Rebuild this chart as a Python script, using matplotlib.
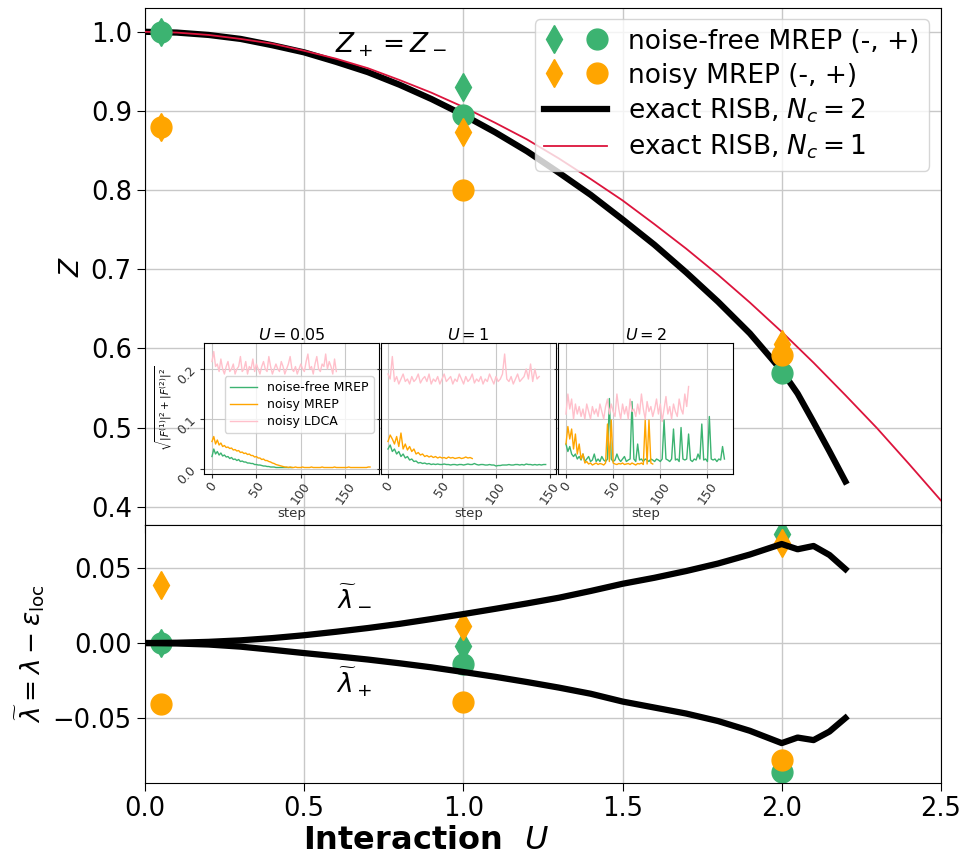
import numpy as np
import matplotlib
matplotlib.use("Agg")
import matplotlib.pyplot as plt
from matplotlib.legend_handler import HandlerTuple

# ---------------- data ----------------
U_points = [0.05, 1.0, 2.0]
# Z (quasiparticle weight) from MREP; (-) diamonds, (+) circles
Z_free_minus = [1.0, 0.93, 0.59]
Z_free_plus = [1.0, 0.895, 0.569]
Z_noisy_minus = [0.88, 0.873, 0.605]
Z_noisy_plus = [0.88, 0.80, 0.592]
# lambda tilde
lam_free_minus = [0.0, -0.002, 0.073]
lam_free_plus = [0.0, -0.014, -0.086]
lam_noisy_minus = [0.039, 0.0113, 0.0667]
lam_noisy_plus = [-0.0407, -0.039, -0.078]

# exact RISB curves
U_nc2 = [0.0, 0.1, 0.2, 0.3, 0.4, 0.5, 0.6, 0.7, 0.8, 0.9, 1.0, 1.1, 1.2, 1.3, 1.4, 1.5, 1.6, 1.7,
         1.8, 1.9, 2.0, 2.05, 2.1, 2.15, 2.2]
Z_nc2 = [1.0, 0.999, 0.996, 0.991, 0.983, 0.974, 0.962, 0.949, 0.933, 0.915, 0.895, 0.873, 0.849,
         0.822, 0.794, 0.763, 0.731, 0.696, 0.659, 0.619, 0.572, 0.543, 0.507, 0.47, 0.432]
U_nc1 = [0.0, 0.1, 0.2, 0.3, 0.4, 0.5, 0.6, 0.7, 0.8, 0.9, 1.0, 1.1, 1.2, 1.3, 1.4, 1.5, 1.6, 1.7,
         1.8, 1.9, 2.0, 2.1, 2.2, 2.3, 2.4, 2.5]
Z_nc1 = [1.0, 0.999, 0.996, 0.991, 0.985, 0.976, 0.966, 0.954, 0.939, 0.923, 0.905, 0.885, 0.864,
         0.840, 0.814, 0.787, 0.757, 0.726, 0.693, 0.658, 0.621, 0.582, 0.541, 0.499, 0.454, 0.408]
U_lam = [0.0, 0.1, 0.2, 0.3, 0.4, 0.5, 0.6, 0.7, 0.8, 0.9, 1.0, 1.1, 1.2, 1.3, 1.4, 1.5, 1.6, 1.7,
         1.8, 1.9, 2.0, 2.05, 2.1, 2.15, 2.2]
lam_minus = [0.0, 0.0002, 0.0008, 0.0018, 0.0033, 0.0052, 0.0075, 0.0100, 0.0128, 0.016, 0.0193,
             0.0228, 0.0264, 0.0302, 0.0347, 0.0395, 0.0435, 0.048, 0.053, 0.059, 0.066, 0.0625,
             0.0647, 0.0587, 0.0493]
lam_plus = [0.0, -0.0003, -0.001, -0.0024, -0.0045, -0.0067, -0.0088, -0.011, -0.0135, -0.0162,
            -0.0193, -0.0225, -0.026, -0.0297, -0.0338, -0.039, -0.043, -0.047, -0.052, -0.0585,
            -0.0667, -0.063, -0.0647, -0.059, -0.050]

# inset convergence traces (value every `step_spacing` steps)
step_spacing = 2
inset_titles = ["$U = 0.05$", "$U = 1$", "$U = 2$"]
pink1 = [0.215, 0.235, 0.205, 0.21, 0.195, 0.22, 0.2, 0.19, 0.205, 0.215, 0.195, 0.2, 0.21, 0.19, 0.2, 0.205,
         0.225, 0.195, 0.2, 0.215, 0.19, 0.205, 0.2, 0.22, 0.195, 0.21, 0.2, 0.19, 0.205, 0.215, 0.2, 0.195,
         0.225, 0.205, 0.19, 0.2, 0.21, 0.2, 0.195, 0.215, 0.205, 0.19, 0.2, 0.21, 0.225, 0.2, 0.195, 0.205,
         0.19, 0.2, 0.21, 0.2, 0.195, 0.215, 0.23, 0.2, 0.205, 0.19, 0.21, 0.225, 0.2, 0.195, 0.21, 0.205,
         0.23, 0.2, 0.215, 0.205, 0.19, 0.22, 0.195]
orange1 = [0.055, 0.065, 0.05, 0.058, 0.048, 0.052, 0.045, 0.047, 0.043, 0.044, 0.041, 0.042, 0.038, 0.039,
           0.036, 0.037, 0.033, 0.034, 0.031, 0.032, 0.029, 0.03, 0.027, 0.027, 0.024, 0.025, 0.022, 0.022,
           0.019, 0.02, 0.017, 0.017, 0.015, 0.014, 0.012, 0.011, 0.009, 0.008, 0.007, 0.006, 0.005, 0.004,
           0.004, 0.003, 0.004, 0.003, 0.003, 0.004, 0.003, 0.003, 0.003, 0.004, 0.003, 0.003, 0.003, 0.003,
           0.004, 0.003, 0.003, 0.003, 0.003, 0.003, 0.004, 0.003, 0.003, 0.003, 0.003, 0.003, 0.003, 0.004,
           0.003, 0.003, 0.003, 0.003, 0.003, 0.003, 0.003, 0.004, 0.003, 0.003, 0.003, 0.003, 0.003, 0.003,
           0.003, 0.003, 0.003, 0.003, 0.004, 0.004]
green1 = [0.025, 0.04, 0.03, 0.035, 0.028, 0.032, 0.026, 0.028, 0.024, 0.025, 0.021, 0.023, 0.019, 0.02,
          0.017, 0.019, 0.015, 0.016, 0.014, 0.014, 0.012, 0.012, 0.011, 0.011, 0.009, 0.009, 0.008, 0.008,
          0.007, 0.006, 0.006, 0.005, 0.005, 0.004, 0.004, 0.004, 0.003, 0.003, 0.003, 0.003, 0.003, 0.003,
          0.003, 0.003, 0.003, 0.003]
pink2 = [0.19, 0.18, 0.225, 0.175, 0.185, 0.17, 0.18, 0.19, 0.175, 0.18, 0.17, 0.185, 0.175, 0.18, 0.19,
         0.172, 0.18, 0.185, 0.175, 0.19, 0.17, 0.18, 0.175, 0.185, 0.17, 0.18, 0.19, 0.175, 0.18, 0.185,
         0.17, 0.18, 0.175, 0.19, 0.18, 0.17, 0.185, 0.175, 0.18, 0.19, 0.172, 0.18, 0.175, 0.185, 0.17,
         0.18, 0.175, 0.19, 0.18, 0.17, 0.185, 0.175, 0.18, 0.19, 0.23, 0.18, 0.175, 0.185, 0.17, 0.18,
         0.19, 0.175, 0.18, 0.185, 0.2, 0.18, 0.21, 0.175, 0.2, 0.18, 0.185]
orange2 = [0.055, 0.068, 0.06, 0.05, 0.065, 0.045, 0.072, 0.04, 0.05, 0.038, 0.045, 0.035, 0.04, 0.03, 0.033,
           0.028, 0.03, 0.025, 0.027, 0.024, 0.026, 0.023, 0.025, 0.022, 0.024, 0.022, 0.023, 0.021, 0.024,
           0.022, 0.023, 0.021, 0.022, 0.023, 0.021, 0.022, 0.024, 0.022, 0.023, 0.021]
green2 = [0.04, 0.048, 0.035, 0.04, 0.03, 0.035, 0.025, 0.03, 0.022, 0.025, 0.018, 0.02, 0.015, 0.016, 0.012,
          0.013, 0.011, 0.012, 0.01, 0.011, 0.009, 0.01, 0.009, 0.01, 0.009, 0.009, 0.01, 0.009, 0.009, 0.008,
          0.009, 0.009, 0.008, 0.009, 0.009, 0.008, 0.009, 0.01, 0.009, 0.009, 0.011, 0.009, 0.008, 0.009,
          0.009, 0.008, 0.008, 0.009, 0.008, 0.008, 0.006, 0.007, 0.007, 0.008, 0.008, 0.008, 0.009, 0.008,
          0.008, 0.009, 0.009, 0.008, 0.009, 0.008, 0.01, 0.009, 0.009, 0.008, 0.009, 0.008, 0.009, 0.008,
          0.009, 0.009]
pink3 = [0.11, 0.15, 0.12, 0.14, 0.1, 0.13, 0.11, 0.125, 0.105, 0.12, 0.1, 0.13, 0.115, 0.1, 0.125, 0.11,
         0.12, 0.105, 0.13, 0.115, 0.1, 0.125, 0.14, 0.11, 0.13, 0.115, 0.105, 0.15, 0.12, 0.1, 0.13, 0.11,
         0.125, 0.1, 0.14, 0.115, 0.12, 0.105, 0.13, 0.11, 0.15, 0.12, 0.1, 0.135, 0.115, 0.125, 0.105, 0.12,
         0.14, 0.11, 0.13, 0.095, 0.12, 0.145, 0.11, 0.125, 0.1, 0.13, 0.115, 0.105, 0.14, 0.12, 0.11, 0.15,
         0.125, 0.165]
orange3 = [0.05, 0.085, 0.06, 0.08, 0.04, 0.07, 0.03, 0.05, 0.02, 0.03, 0.012, 0.015, 0.01, 0.012, 0.008,
           0.01, 0.012, 0.009, 0.011, 0.01, 0.008, 0.012, 0.09, 0.015, 0.098, 0.012, 0.01, 0.009, 0.011, 0.01,
           0.012, 0.009, 0.01, 0.011, 0.009, 0.012, 0.01, 0.008, 0.011, 0.01, 0.012, 0.009, 0.098, 0.01, 0.098,
           0.012, 0.01]
green3 = [0.05, 0.035, 0.045, 0.03, 0.025, 0.03, 0.02, 0.025, 0.018, 0.03, 0.015, 0.02, 0.025, 0.015, 0.018,
          0.03, 0.015, 0.02, 0.015, 0.025, 0.018, 0.015, 0.02, 0.141, 0.02, 0.015, 0.018, 0.03, 0.02, 0.015,
          0.02, 0.025, 0.015, 0.018, 0.02, 0.135, 0.02, 0.015, 0.05, 0.018, 0.02, 0.015, 0.02, 0.018, 0.015,
          0.02, 0.018, 0.015, 0.02, 0.018, 0.015, 0.02, 0.098, 0.02, 0.018, 0.015, 0.02, 0.08, 0.018, 0.02,
          0.015, 0.083, 0.02, 0.018, 0.02, 0.07, 0.018, 0.015, 0.02, 0.018, 0.03, 0.02, 0.09, 0.018, 0.02,
          0.015, 0.105, 0.02, 0.018, 0.02, 0.015, 0.02, 0.018, 0.045, 0.02]
inset_green = [green1, green2, green3]
inset_orange = [orange1, orange2, orange3]
inset_pink = [pink1, pink2, pink3]

# ---------------- style ----------------
GREEN = "#3cb371"
ORANGE = "#ffa500"
RED = "#dc143c"
PINK = "#ffc0cb"
MS_D = 14
MS_O = 15

fig = plt.figure(figsize=(9.65, 8.55), dpi=100)
ax1 = fig.add_axes([0.1503, 0.386, 0.8247, 0.6046])
ax2 = fig.add_axes([0.1503, 0.0842, 0.8247, 0.3018], sharex=ax1)

for ax in (ax1, ax2):
    ax.grid(True, color="#c8c8c8", lw=1.0)
    ax.set_axisbelow(True)
    ax.tick_params(labelsize=18.5, length=6)

# --- top panel ---
l2, = ax1.plot(U_nc2, Z_nc2, color="black", lw=4.5, zorder=3)
l1, = ax1.plot(U_nc1, Z_nc1, color=RED, lw=1.3, zorder=3)
gd, = ax1.plot(U_points, Z_free_minus, "d", color=GREEN, ms=MS_D, ls="none", zorder=4)
go, = ax1.plot(U_points, Z_free_plus, "o", color=GREEN, ms=MS_O, ls="none", zorder=4)
od, = ax1.plot(U_points, Z_noisy_minus, "d", color=ORANGE, ms=MS_D, ls="none", zorder=4)
oo, = ax1.plot(U_points, Z_noisy_plus, "o", color=ORANGE, ms=MS_O, ls="none", zorder=4)
ax1.set_ylim(0.377, 1.03)
ax1.set_yticks([0.4, 0.5, 0.6, 0.7, 0.8, 0.9, 1.0])
ax1.set_ylabel("$Z$", fontsize=19)
ax1.tick_params(labelbottom=False)
ax1.text(0.597, 0.984, "$Z_+ = Z_-$", fontsize=19, va="center", ha="left")

leg = ax1.legend([(gd, go), (od, oo), l2, l1],
                 ["noise-free MREP (-, +)", "noisy MREP (-, +)",
                  "exact RISB, $N_c = 2$", "exact RISB, $N_c = 1$"],
                 handler_map={tuple: HandlerTuple(ndivide=None, pad=0.8)},
                 loc="upper right", bbox_to_anchor=(0.985, 0.978),
                 fontsize=19, handlelength=2.4, borderpad=0.35,
                 labelspacing=0.3, handletextpad=0.8, borderaxespad=0.0)
leg.set_zorder(5)

# --- bottom panel ---
ax2.plot(U_points, lam_free_minus, "d", color=GREEN, ms=MS_D, ls="none", zorder=2)
ax2.plot(U_points, lam_free_plus, "o", color=GREEN, ms=MS_O, ls="none", zorder=2)
ax2.plot(U_points, lam_noisy_minus, "d", color=ORANGE, ms=MS_D, ls="none", zorder=2)
ax2.plot(U_points, lam_noisy_plus, "o", color=ORANGE, ms=MS_O, ls="none", zorder=2)
ax2.plot(U_lam, lam_minus, color="black", lw=4.5, zorder=3)
ax2.plot(U_lam, lam_plus, color="black", lw=4.5, zorder=3)
ax2.set_ylim(-0.0933, 0.0787)
ax2.set_yticks([-0.05, 0.0, 0.05])
ax2.set_xlim(0, 2.5)
ax2.set_xticks([0.0, 0.5, 1.0, 1.5, 2.0, 2.5])
ax2.set_ylabel(r"$\widetilde{\lambda} = \lambda - \varepsilon_{\rm loc}$", fontsize=19)
ax2.set_xlabel("Interaction  $U$", fontsize=23, fontweight="bold")
ax2.xaxis.set_label_coords(0.353, -0.163)
ax2.text(0.6, 0.030, r"$\widetilde{\lambda}_-$", fontsize=19, va="center", ha="left")
ax2.text(0.6, -0.026, r"$\widetilde{\lambda}_+$", fontsize=19, va="center", ha="left")

# --- inset panels ---
inset_lefts = [0.2114, 0.3948, 0.5782]
inset_xlims = [(-9, 188), (-6.5, 155.5), (-8.5, 177)]
for k in range(3):
    ax = fig.add_axes([inset_lefts[k], 0.4456, 0.1813, 0.1532], zorder=6)
    ax.set_facecolor("white")
    g = inset_green[k]; o = inset_orange[k]; p = inset_pink[k]
    ax.plot(np.arange(len(g)) * step_spacing, g, color=GREEN, lw=1.0, label="noise-free MREP")
    ax.plot(np.arange(len(o)) * step_spacing, o, color=ORANGE, lw=1.0, label="noisy MREP")
    ax.plot(np.arange(len(p)) * step_spacing, p, color=PINK, lw=1.0, label="noisy LDCA")
    ax.set_xlim(*inset_xlims[k])
    ax.set_ylim(-0.01, 0.252)
    ax.set_xticks([0, 50, 100, 150])
    ax.set_yticks([0.0, 0.1, 0.2])
    ax.grid(True, color="#c8c8c8", lw=0.8)
    ax.tick_params(labelsize=9, length=3, pad=1, colors="#333333")
    plt.setp(ax.get_xticklabels(), rotation=55)
    ax.set_title(inset_titles[k], fontsize=11.5, pad=2)
    ax.set_xlabel("step", fontsize=9.5, labelpad=0, color="#333333")
    if k == 0:
        plt.setp(ax.get_yticklabels(), rotation=45)
        ax.set_ylabel(r"$\sqrt{|F^{(1)}|^2+|F^{(2)}|^2}$", fontsize=7.5, labelpad=1)
        ax.legend(loc="upper right", bbox_to_anchor=(0.97, 0.745), fontsize=9,
                  handlelength=2.2, borderpad=0.4, labelspacing=0.3, framealpha=0.8,
                  borderaxespad=0.0)
    else:
        ax.tick_params(labelleft=False)

fig.savefig("out.png", dpi=100)
